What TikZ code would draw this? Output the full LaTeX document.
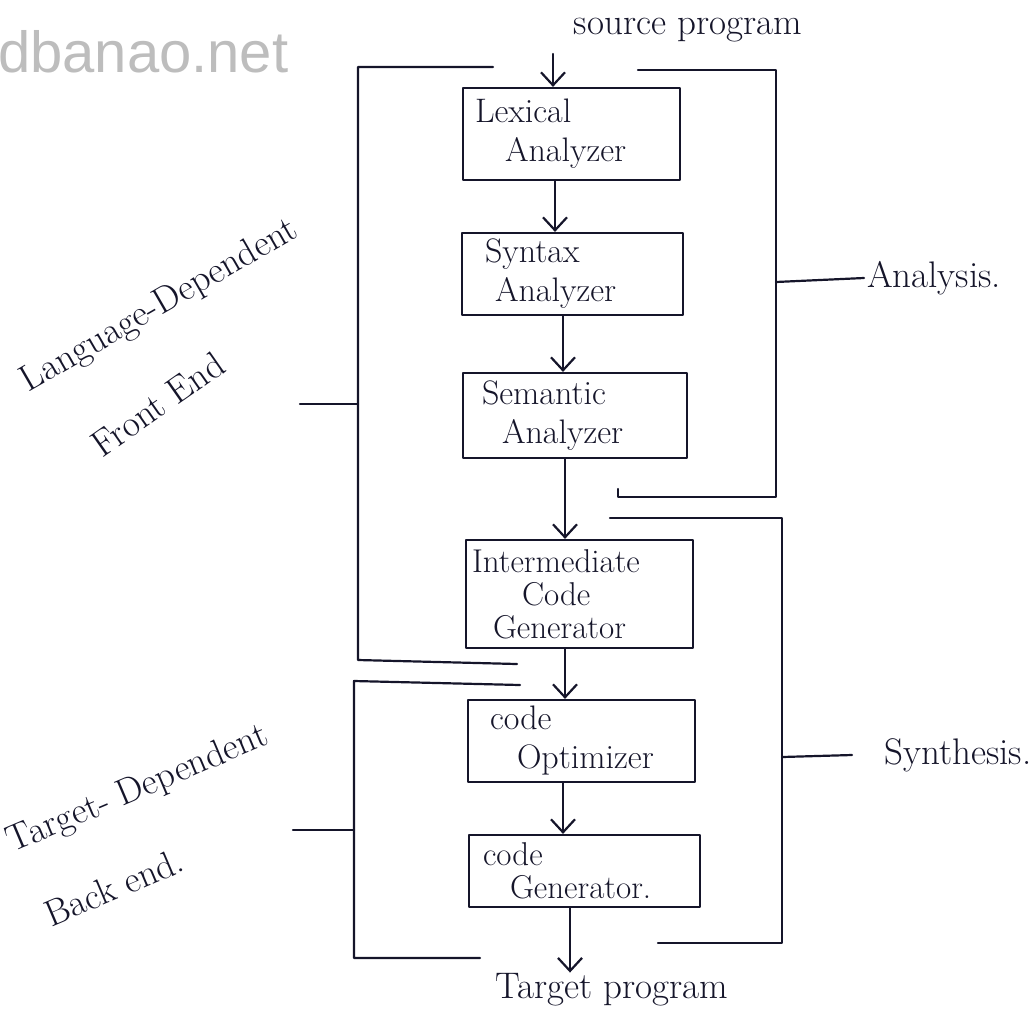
\documentclass[tikz,border=0pt]{standalone}
\usepackage{fontspec}
\usetikzlibrary{arrows.meta,calc}
\newfontfamily\markfont{Liberation Sans}
\definecolor{ink}{HTML}{15152A}
\definecolor{markgray}{HTML}{BDBDBD}
\begin{document}
\begin{tikzpicture}[x=1pt,y=-1pt,
  line width=2.2pt, line cap=round, line join=round, draw=ink, text=ink,
  stage/.style={draw, align=left, inner xsep=6pt, inner ysep=1pt,
    font=\fontsize{34}{39}\selectfont},
  lbl/.style={inner sep=2pt, font=\fontsize{37}{42}\selectfont},
  arr/.style={-{Straight Barb[length=13pt,width=24pt]}}]
\useasboundingbox (0,0) rectangle (1035,1029);

% faint site mark
\node[anchor=base west, inner sep=0, text=markgray, font=\markfont\fontsize{58}{60}\selectfont] (site) at (-3,72) {dbanao.net};

% compiler phases
\node[stage, text width=205pt, minimum height=92pt] (lex) at (571.5,134)
  {\hspace*{6pt}Lexical\\\hspace*{36pt}Analyzer};
\node[stage, text width=209pt, minimum height=82pt] (syn) at (572.5,274)
  {\hspace*{17pt}Syntax\\\hspace*{27pt}Analyzer};
\node[stage, text width=212pt, minimum height=85pt] (sem) at (575,415.5)
  {\hspace*{13pt}Semantic\\\hspace*{33pt}Analyzer};
\node[stage, text width=215pt, minimum height=108pt, font=\fontsize{33}{33}\selectfont] (icg) at (579.5,594)
  {Intermediate\\\hspace*{50pt}Code\\\hspace*{21pt}Generator};
\node[stage, text width=215pt, minimum height=82pt] (opt) at (581.5,741)
  {\hspace*{16pt}code\\\hspace*{43pt}Optimizer};
\node[stage, text width=219pt, minimum height=72pt, font=\fontsize{33}{33}\selectfont] (gen) at (584.5,871)
  {\hspace*{8pt}code\\\hspace*{35pt}Generator.};

% input and output
\node[lbl] (src) at (688,30) {source program};
\node[lbl] (tgt) at (612,990) {Target program};

% flow through the phases
\coordinate (c0) at (553,54);
\coordinate (c1) at (555,0);
\coordinate (c2) at (563,0);
\coordinate (c3) at (565,0);
\coordinate (c4) at (565,0);
\coordinate (c5) at (563,0);
\coordinate (c6) at (570,0);
\draw[arr] (c0) -- (lex.north -| c0);
\draw[arr] (lex.south -| c1) -- (syn.north -| c1);
\draw[arr] (syn.south -| c2) -- (sem.north -| c2);
\draw[arr] (sem.south -| c3) -- (icg.north -| c3);
\draw[arr] (icg.south -| c4) -- (opt.north -| c4);
\draw[arr] (opt.south -| c5) -- (gen.north -| c5);
\draw[arr] (gen.south -| c6) -- ([yshift=-2pt]tgt.north -| c6);

% front end bracket
\draw (493,67) -- (358,67) -- (358,660) -- (517,664);
\coordinate (fe) at (300,404);
\draw (fe) -- (358,404);
\node[lbl, rotate=30] (fe1) at (160,306) {Language-Dependent};
\node[lbl, rotate=35] (fe2) at (158,404) {Front End};

% back end bracket
\draw (520,685) -- (354,681) -- (354,958) -- (480,958);
\coordinate (be) at (293,830);
\draw (be) -- (354,830);
\node[lbl, rotate=23] (be1) at (138,790) {Target- Dependent};
\node[lbl, rotate=23] (be2) at (114,887) {Back end.};

% analysis bracket
\draw (638,70) -- (776,70) -- (776,497) -- (618,497) -- (618,489);
\node[lbl, anchor=west] (ana) at (864,278) {Analysis.};
\draw (776,282) -- (ana.west);

% synthesis bracket
\draw (610,518) -- (782,518) -- (782,943) -- (658,943);
\coordinate (sy) at (852,755);
\draw (782,757) -- (sy);
\node[lbl] (syl) at (958,755) {Synthesis.};
\end{tikzpicture}
\end{document}
